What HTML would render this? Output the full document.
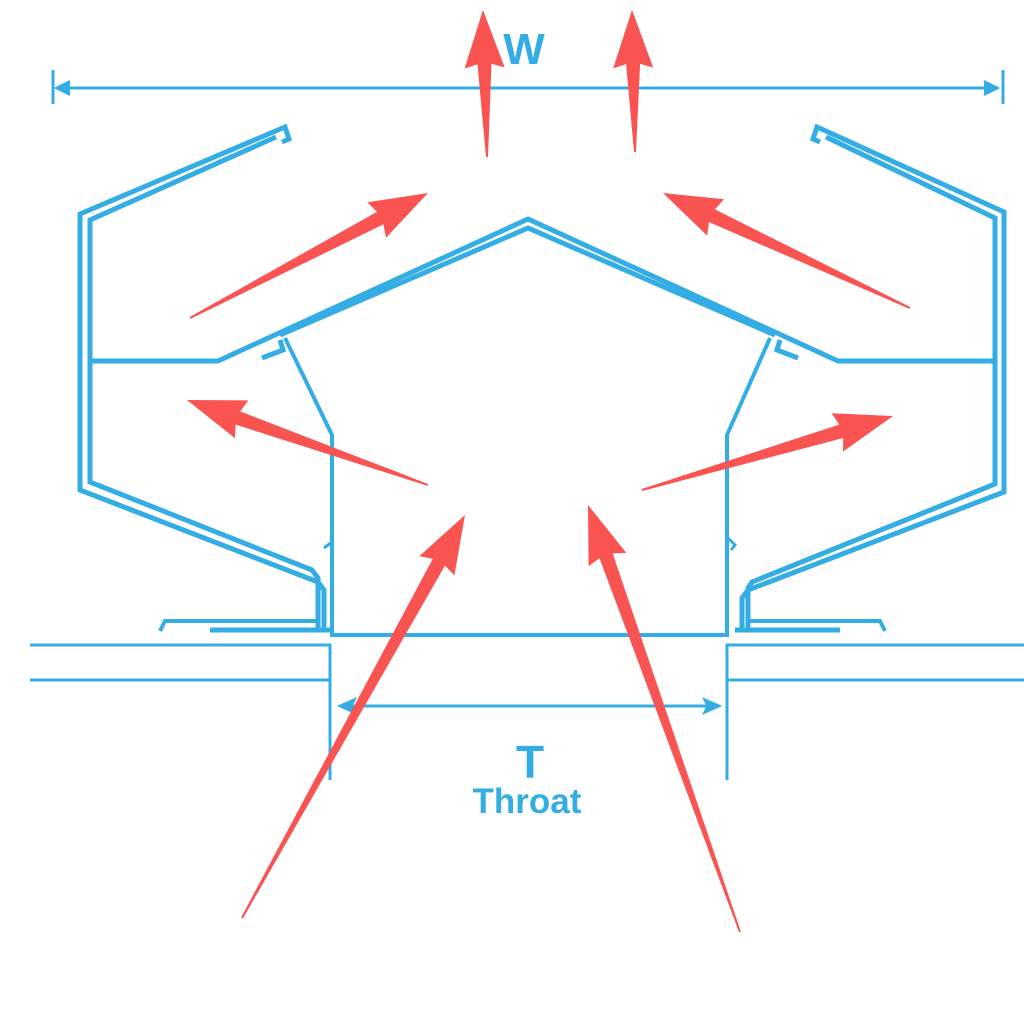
<!DOCTYPE html>
<html><head><meta charset="utf-8"><style>
html,body{margin:0;padding:0;background:#fff;}
svg{display:block;}
</style></head><body>
<svg id="s" width="1024" height="1024" viewBox="0 0 1024 1024" xmlns="http://www.w3.org/2000/svg">
<g fill="none" stroke="#33ade3" stroke-width="5" stroke-linejoin="miter">
<!-- W dimension -->
<line x1="56" y1="88" x2="998" y2="88" stroke-width="3"/>
<line x1="53" y1="70" x2="53" y2="104" stroke-width="3"/>
<line x1="1003" y1="70" x2="1003" y2="104" stroke-width="3"/>
<polyline points="70,81 56,88 70,95" fill="#33ade3" stroke-width="2"/>
<polyline points="984,81 998,88 984,95" fill="#33ade3" stroke-width="2"/>
<!-- left shell -->
<polyline points="282,142 289,139 285,127 80,214 80,490 318,582 324,590 324,630"/>
<polyline points="276,137 90,220 90,482 312,570 318,578 318,630"/>
<!-- right shell -->
<polyline points="820,142 813,139 817,127 1004,212 1004,492 748,590 742,598 742,630"/>
<polyline points="826,137 995,218 995,484 752,582 748,588 748,630"/>
<!-- mid horizontals + roof -->
<polyline points="90,361 218,361 528,219 838,361 995,361"/>
<polyline points="280,335 528,228 775,335"/>
<!-- brackets -->
<polyline points="262,358 283,350 280,340"/>
<polyline points="798,358 777,350 780,340"/>
<!-- cone -->
<polyline points="285,338 332,435 332,635 727,635 727,435 770,338" stroke-width="4"/>
<polyline points="332,542 324,548" stroke-width="3"/>
<polyline points="727,537 735,545 731,550" stroke-width="3"/>
<!-- flanges -->
<polyline points="210,630 330,630" />
<polyline points="160,631 165,621 318,621" stroke-width="4"/>
<polyline points="735,630 840,630"/>
<polyline points="748,621 880,621 885,631" stroke-width="4"/>
<!-- roof deck -->
<polyline points="30,645 330,645 330,780" stroke-width="3"/>
<line x1="30" y1="680" x2="330" y2="680" stroke-width="3"/>
<polyline points="1024,645 727,645 727,780" stroke-width="3"/>
<line x1="727" y1="680" x2="1024" y2="680" stroke-width="3"/>
<!-- T dim -->
<line x1="342" y1="706" x2="716" y2="706" stroke-width="3"/>
<polygon points="338,706 356,698 352,706 356,714" fill="#33ade3" stroke-width="1"/>
<polygon points="721,706 703,698 707,706 703,714" fill="#33ade3" stroke-width="1"/>
</g>
<g fill="#33ade3" font-family="'Liberation Sans',sans-serif" text-anchor="middle">
<text x="524" y="64" font-size="44" font-weight="bold">W</text>
<text x="530" y="778" font-size="46" font-weight="bold">T</text>
<text x="527" y="813" font-size="35" font-weight="bold">Throat</text>
</g>
<g id="arrows" fill="#f95352"></g>
<script>
var A=[[487,157,483,10],[635,152,632,10],[190,318,428,193],[910,308,663,193],[428,485,187,400],[642,490,893,416],[242,918,465,515],[740,932,588,505]];
var g=document.getElementById('arrows');
A.forEach(function(a){
 var dx=a[2]-a[0],dy=a[3]-a[1],L=Math.hypot(dx,dy),ux=dx/L,uy=dy/L,px=-uy,py=ux;
 var hl=54,hw=20,sw=7,tw=1;
 var bx=a[2]-ux*hl,by=a[3]-uy*hl;
 var pts=[[a[0]+px*tw,a[1]+py*tw],[bx+px*sw,by+py*sw],[bx+px*hw-ux*4,by+py*hw-uy*4],[a[2],a[3]],[bx-px*hw-ux*4,by-py*hw-uy*4],[bx-px*sw,by-py*sw],[a[0]-px*tw,a[1]-py*tw]];
 var p=document.createElementNS('http://www.w3.org/2000/svg','polygon');
 p.setAttribute('points',pts.map(function(q){return q[0].toFixed(1)+','+q[1].toFixed(1)}).join(' '));
 g.appendChild(p);
});
</script>
</svg>
</body></html>
